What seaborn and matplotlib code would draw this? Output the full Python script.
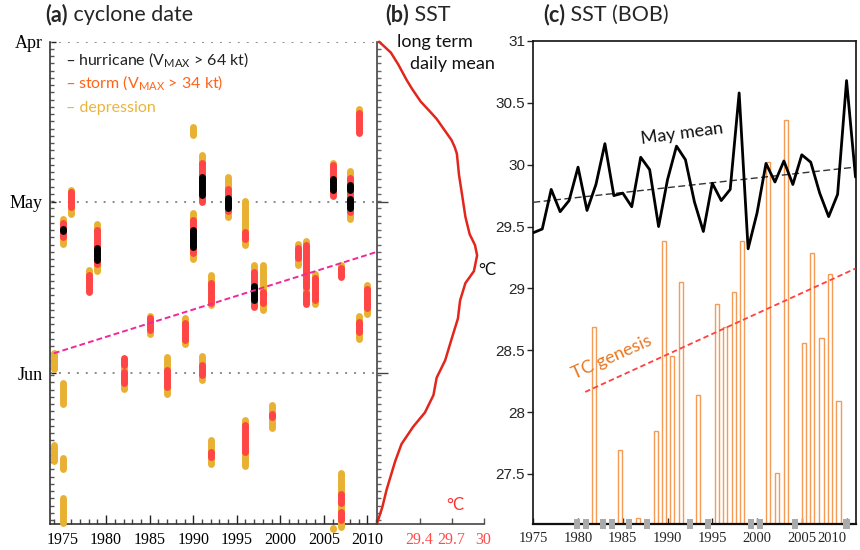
import numpy as np
import pandas as pd
import matplotlib
matplotlib.use("Agg")
import matplotlib.pyplot as plt
import seaborn as sns
from matplotlib.ticker import FixedLocator


# ──────────────────────────────────────────────
# Panel (a): cyclone life cycles (days after 1 April)
# stage codes: D depression, S storm, H hurricane
# ──────────────────────────────────────────────

cyc_year = [1974, 1974, 1975, 1975, 1975, 1975, 1976, 1978, 1979, 1982, 1985, 1987,
            1989, 1990, 1990, 1991, 1991, 1992, 1992, 1994, 1996, 1996, 1997, 1998,
            1999, 2002, 2003, 2004, 2006, 2006, 2007, 2007, 2008, 2009, 2009, 2010]

cyc_bounds = [
    [56.7, 60.7], [73.6, 77.6],
    [32.1, 33.4, 34.5, 34.9, 35.9, 37.7], [62.2, 67.1], [76.0, 79.1], [83.4, 89.0],
    [26.7, 27.6, 30.4, 32.2],
    [41.4, 42.9, 46.6],
    [33.1, 34.6, 38.0, 40.2, 40.8, 42.6],
    [57.6, 59.5, 60.7, 62.8, 64.4],
    [50.0, 50.9, 53.0, 54.3],
    [57.5, 60.4, 63.5, 65.3],
    [50.3, 51.8, 54.9, 56.1],
    [15.1, 17.7], [31.0, 32.8, 34.6, 37.7, 38.9, 40.5],
    [20.4, 22.4, 24.8, 28.2, 30.0], [57.3, 59.5, 61.3, 62.8],
    [42.4, 44.4, 48.1, 49.0], [72.7, 75.4, 76.3, 78.2],
    [24.3, 27.0, 28.8, 30.6, 31.1, 32.8],
    [28.8, 35.0, 36.2, 37.8], [69.1, 70.5, 75.4, 78.5],
    [40.5, 42.3, 44.9, 47.5, 49.2],
    [40.5, 46.0, 48.1, 49.9],
    [66.4, 68.5, 69.0, 71.6],
    [36.7, 38.0, 39.8, 41.6],
    [36.1, 37.4, 45.1, 46.3, 48.7],
    [42.3, 43.5, 47.5, 48.7],
    [21.9, 22.7, 25.3, 27.2, 28.8], [88.9, 90.1],
    [40.5, 41.6, 43.8], [78.8, 83.1, 84.9, 86.5, 88.0, 89.8],
    [23.3, 25.1, 26.4, 27.2, 29.0, 30.6, 31.3, 33.1],
    [11.8, 13.1, 17.2], [50.0, 51.5, 53.3, 55.2],
    [44.2, 45.4, 49.0, 50.6],
]

cyc_stage = ["D", "D", "DSHSD", "D", "D", "D", "DSD", "DS", "DSHSD", "SDSD", "DSD", "DSD",
             "DSD", "D", "DSHSD", "DSHS", "DSD", "DSD", "DSD", "DSHSD", "DSD", "DSD", "DSHS", "DSD",
             "DSD", "DSD", "DSDS", "DSD", "DSHS", "D", "DS", "DSDSD", "DSHSHSD", "DS", "DSD", "DSD"]

month_labels = ["Apr", "May", "Jun"]
month_days = [0, 29.4, 61.0]

# trend of genesis date
genesis_trend_years = [1974, 2011]
genesis_trend_days = [57.3, 38.7]

# ──────────────────────────────────────────────
# Panel (b): long term daily mean SST
# ──────────────────────────────────────────────

clim_days = [0, 2.0, 4.2, 7.1, 8.7, 11.0, 12.9, 14.2, 18.1, 19.4, 20.6, 24.5, 28.3, 32.2,
             35.4, 37.4, 39.3, 42.2, 44.4, 47.6, 50.9, 54.7, 58.6, 61.8, 65.0, 68.2, 70.8,
             74.0, 77.2, 82.4, 85.6, 88.6]
clim_sst = [29.02, 29.13, 29.20, 29.28, 29.33, 29.41, 29.50, 29.56, 29.70, 29.73, 29.75,
            29.77, 29.80, 29.83, 29.87, 29.92, 29.94, 29.91, 29.83, 29.78, 29.76, 29.70,
            29.64, 29.56, 29.53, 29.45, 29.34, 29.23, 29.17, 29.09, 29.05, 29.00]

# ──────────────────────────────────────────────
# Panel (c): May mean SST over the Bay of Bengal
# ──────────────────────────────────────────────

may_years = list(range(1975, 2012))
may_sst = [29.45, 29.48, 29.80, 29.62, 29.71, 29.98, 29.63, 29.84, 30.17, 29.75, 29.77,
           29.66, 30.06, 29.96, 29.50, 29.88, 30.15, 30.04, 29.70, 29.46, 29.85, 29.71,
           29.80, 30.58, 29.32, 29.61, 30.01, 29.86, 30.03, 29.84, 30.08, 30.02, 29.77,
           29.58, 29.76, 30.68, 29.90]

# SST at TC genesis
tc_x = [1981.8, 1984.7, 1986.7, 1988.7, 1989.6, 1990.5, 1991.5, 1993.4, 1995.5, 1996.4,
        1997.4, 1998.3, 2001.2, 2002.2, 2003.2, 2005.2, 2006.1, 2007.2, 2008.1, 2009.1]
tc_sst = [28.69, 27.69, 27.14, 27.85, 29.38, 28.45, 29.05, 28.14, 28.87, 28.69,
          28.97, 29.38, 30.02, 27.51, 30.36, 28.56, 29.29, 28.60, 29.12, 28.09]

# years without May TC
no_tc_x = [1979.9, 1980.9, 1982.8, 1983.8, 1985.7, 1987.7, 1992.5, 1994.5, 1999.3,
           2000.3, 2004.2, 2010.0]

# ──────────────────────────────────────────────
# Style
# ──────────────────────────────────────────────

sns.set_theme(style="white")
plt.rcParams["font.family"] = ["Lato", "DejaVu Sans"]
plt.rcParams["axes.linewidth"] = 1.2

W, H = 860, 550
SERIF = "Liberation Serif"
YEL, RED, BLK = "#E9B134", "#FF4545", "#000000"
stage_color = {"D": YEL, "S": RED, "H": BLK}
stage_z = {"D": 3, "S": 4, "H": 5}

fig = plt.figure(figsize=(W / 100, H / 100), dpi=100)
ax_a = fig.add_axes([49.5 / W, 26 / H, 327.5 / W, 482.3 / H])
ax_b = fig.add_axes([377 / W, 26 / H, 106.5 / W, 482.3 / H])
ax_c = fig.add_axes([533.3 / W, 26 / H, 322.2 / W, 483 / H])


def fxy(x, y):
    return x / W, 1 - y / H


def panel_title(x, y, tag, rest):
    t = fig.text(*fxy(x, y), tag, fontsize=15.5, fontweight="bold", va="center", ha="left")
    ax_a.annotate(rest, xy=(1, 0.5), xycoords=t, fontsize=15.5, va="center", ha="left",
                  annotation_clip=False)


# ──────────────────────────────────────────────
# (a) cyclone date
# ──────────────────────────────────────────────

cap = 0.5
for yr, b, st in zip(cyc_year, cyc_bounds, cyc_stage):
    b = list(b)
    b[0] += cap
    b[-1] -= cap
    for k, s in enumerate(st):
        ax_a.plot([yr, yr], [b[k], b[k + 1]], color=stage_color[s], lw=5,
                  solid_capstyle="round", zorder=stage_z[s], clip_on=False)

for m in month_days:
    ax_a.axhline(m, color="#8a8a8a", lw=1.4, ls=(0, (1, 3.6)), zorder=1)

ax_a.plot(genesis_trend_years, genesis_trend_days, color="#F0289A", lw=1.4,
          ls=(0, (3, 1.6)), zorder=6)

ax_a.set_xlim(1973.5, 2011.1)
ax_a.set_ylim(88.7, 0)
ax_a.set_xticks(range(1975, 2011, 5), [str(y) for y in range(1975, 2011, 5)],
                fontfamily=SERIF, fontsize=11.5)
ax_a.xaxis.set_minor_locator(FixedLocator(range(1974, 2012)))
ax_a.set_yticks(month_days, month_labels, fontfamily=SERIF, fontsize=13)
ax_a.yaxis.set_minor_locator(FixedLocator(np.arange(0, 89, 4 / 3)))
ax_a.tick_params(axis="x", which="major", direction="in", length=6.5, width=1, pad=6,
                 bottom=True, colors="#222222")
ax_a.tick_params(axis="x", which="minor", direction="in", length=3.4, width=1, bottom=True,
                 colors="#444444")
ax_a.tick_params(axis="y", which="major", direction="in", length=4.5, width=1, pad=5,
                 left=True, colors="#222222")
ax_a.tick_params(axis="y", which="minor", direction="in", length=3.2, width=1, left=True,
                 colors="#555555")
for lab in ax_a.get_xticklabels() + ax_a.get_yticklabels():
    lab.set_color("black")
ax_a.spines["top"].set_visible(False)
ax_a.spines["right"].set_visible(False)
for sp in ("left", "bottom"):
    ax_a.spines[sp].set_color("#333333")

panel_title(45, 15, "(a)", " cyclone date")
fig.text(*fxy(66, 60.5), "– hurricane (V$_{\\mathregular{MAX}}$ > 64 kt)", color="#222222",
         fontsize=11.5, va="center", ha="left")
fig.text(*fxy(66, 83.5), "– storm (V$_{\\mathregular{MAX}}$ > 34 kt)", color="#FF6418",
         fontsize=11.5, va="center", ha="left")
fig.text(*fxy(66, 108), "– depression", color="#EBB53C", fontsize=11.5, va="center",
         ha="left")

# ──────────────────────────────────────────────
# (b) long term daily mean SST
# ──────────────────────────────────────────────

clim = pd.DataFrame({"sst": clim_sst, "day": clim_days})
sns.lineplot(data=clim, x="sst", y="day", sort=False, estimator=None, color="#E3261C",
             lw=1.8, ax=ax_b, clip_on=False)
ax_b.set_xlim(29.0, 30.0)
ax_b.set_ylim(88.7, 0)
ax_b.set_xlabel("")
ax_b.set_ylabel("")
ax_b.set_xticks([29.4, 29.7, 30.0], ["29.4", "29.7", "30"], fontfamily=SERIF,
                fontsize=11.5, color="#FF4B4B")
ax_b.set_yticks(month_days[1:], [])
ax_b.yaxis.set_minor_locator(FixedLocator(np.arange(0, 89, 4 / 3)))
ax_b.tick_params(axis="x", direction="in", length=4, width=1, pad=6, bottom=True,
                 colors="#555555")
ax_b.tick_params(axis="y", which="major", direction="in", length=8, width=1, left=True,
                 colors="#444444")
ax_b.tick_params(axis="y", which="minor", direction="in", length=3.2, width=1, left=True,
                 colors="#666666")
for lab in ax_b.get_xticklabels():
    lab.set_color("#FF4B4B")
ax_b.spines["top"].set_visible(False)
ax_b.spines["right"].set_visible(False)
ax_b.spines["left"].set_color("#444444")
ax_b.spines["bottom"].set_color("#444444")
ax_b.patch.set_alpha(0)

panel_title(385, 15, "(b)", " SST")
fig.text(*fxy(435, 42), "long term", fontsize=13, ha="center", va="center", color="#111111")
fig.text(*fxy(452, 64), "daily mean", fontsize=13, ha="center", va="center", color="#111111")
fig.text(*fxy(455, 505), "°C", fontsize=12, ha="center", va="center", color="#FF3030")

# ──────────────────────────────────────────────
# (c) SST (BOB)
# ──────────────────────────────────────────────

c_bottom = 27.095
ax_c.bar(tc_x, np.array(tc_sst) - c_bottom, bottom=c_bottom, width=0.45, fill=False,
         edgecolor="#F49B55", lw=1.0, zorder=2)
ax_c.bar(no_tc_x, 0.085, bottom=c_bottom - 0.042, width=0.7, color="#AAAAAA", lw=0,
         zorder=6, clip_on=False)

may = pd.DataFrame({"year": may_years, "sst": may_sst})
sns.lineplot(data=may, x="year", y="sst", color="black", lw=2.0, ax=ax_c, zorder=4)

k_may = np.polyfit(may_years, may_sst, 1)
xm = np.array([1975, 2011])
ax_c.plot(xm, np.polyval(k_may, xm), color="#333333", lw=1.0, ls=(0, (5, 2.5)), zorder=3)

k_tc = np.polyfit(tc_x, tc_sst, 1)
xt = np.array([min(tc_x) - 1.0, 2011])
ax_c.plot(xt, np.polyval(k_tc, xt), color="#FF4040", lw=1.3, ls=(0, (3, 1.8)), zorder=3)

ax_c.set_xlim(1975, 2011)
ax_c.set_ylim(c_bottom, 31)
ax_c.set_xlabel("")
ax_c.set_ylabel("")
ax_c.set_xticks(range(1975, 2011, 5), [str(y) for y in range(1975, 2011, 5)],
                fontfamily=SERIF, fontsize=10.5)
c_yt = [27.5, 28, 28.5, 29, 29.5, 30, 30.5, 31]
ax_c.set_yticks(c_yt, [f"{v:g}" for v in c_yt], fontfamily="Liberation Sans", fontsize=11)
ax_c.tick_params(axis="x", direction="in", length=4, width=1, pad=6, bottom=True)
ax_c.tick_params(axis="y", direction="out", length=4, width=1, pad=2, left=True)
ax_c.get_xticklabels()[-1].set_horizontalalignment("right")
ax_c.get_xticklabels()[-1].set_x(2011)
for sp in ax_c.spines.values():
    sp.set_color("#111111")
    sp.set_linewidth(1.2)
ax_c.spines["bottom"].set_linewidth(1.6)

panel_title(543, 15, "(c)", " SST (BOB)")
fig.text(*fxy(682, 134), "May mean", fontsize=13, rotation=7.5, ha="center", va="center",
         color="#111111", rotation_mode="anchor")
fig.text(*fxy(612, 357), "TC genesis", fontsize=13, rotation=24, ha="center", va="center",
         color="#E87722", rotation_mode="anchor")
fig.text(*fxy(487, 270), "°C", fontsize=12, ha="center", va="center", color="#111111")

fig.savefig("out.png", dpi=100)
